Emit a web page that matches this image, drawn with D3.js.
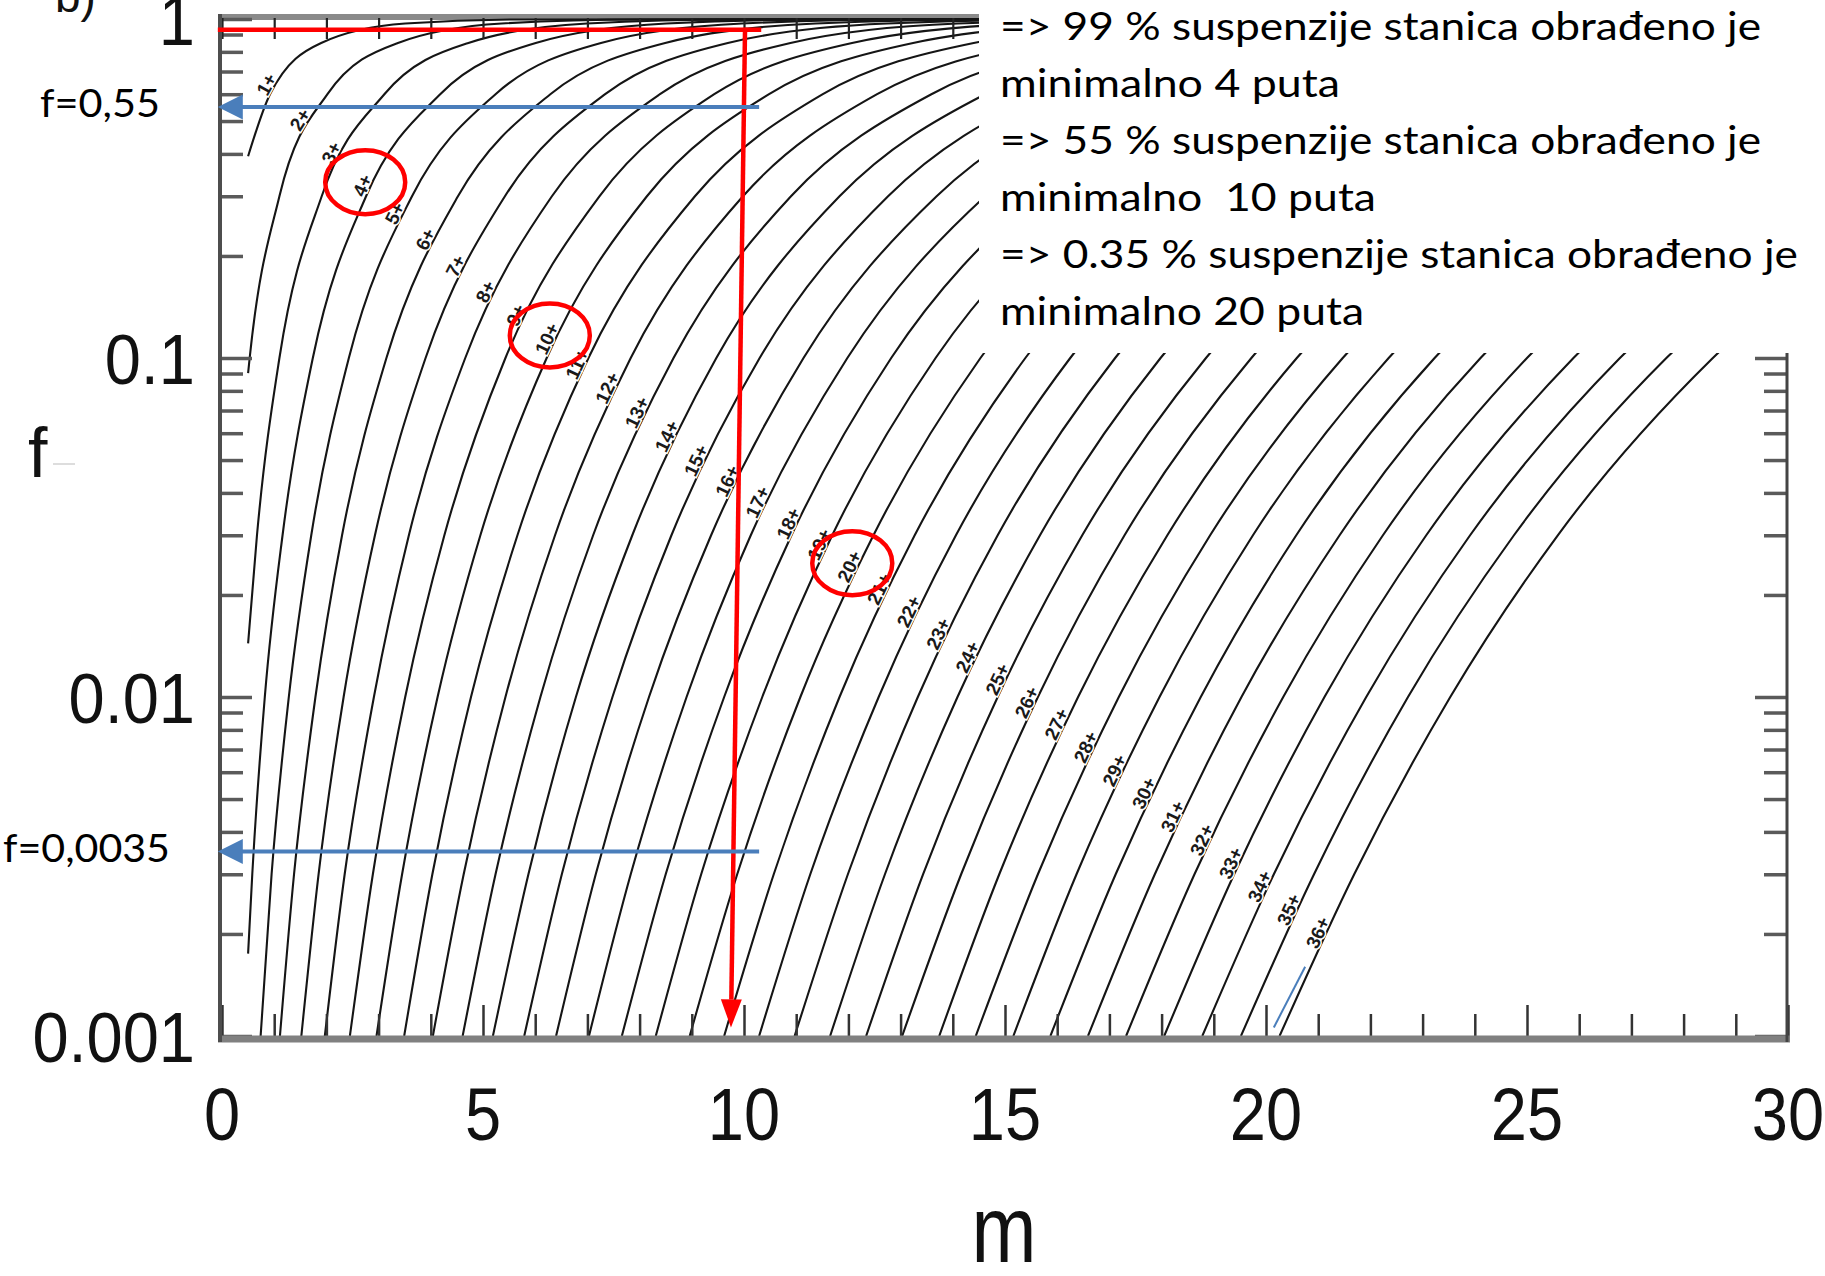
<!DOCTYPE html>
<html>
<head>
<meta charset="utf-8">
<script src="https://cdn.jsdelivr.net/npm/d3@7/dist/d3.min.js"></script>
<style>
  html, body { margin: 0; padding: 0; background: #fff; }
  svg { display: block; }
</style>
</head>
<body>
<svg id="chart" width="1825" height="1276"></svg>
<script>
// ── data: curves "k+" (k = 1..36), m read where each curve crosses a given f ──
const curveK = [1, 2, 3, 4, 5, 6, 7, 8, 9, 10, 11, 12, 13, 14, 15, 16, 17, 18,
  19, 20, 21, 22, 23, 24, 25, 26, 27, 28, 29, 30, 31, 32, 33, 34, 35, 36];
const fLevels = [0.001, 0.003, 0.01, 0.03, 0.1, 0.3, 0.6, 0.85, 0.97, 0.997];

// curves 1+..4+ start at m = 0.5 above the bottom edge
const mStart = 0.5;
const fAtStart = [0.3935, 0.0902, 0.0144, 0.00175];

const mAtF0001 = [null, null, null, null, 0.74, 1.11, 1.52, 1.97, 2.45, 2.96, 3.49, 4.04,
  4.61, 5.19, 5.79, 6.40, 7.03, 7.66, 8.31, 8.96, 9.62, 10.29, 10.97, 11.65,
  12.34, 13.03, 13.74, 14.44, 15.16, 15.87, 16.59, 17.32, 18.05, 18.78, 19.52, 20.26];
const mAtF0003 = [null, null, null, 0.58, 0.95, 1.38, 1.85, 2.35, 2.89, 3.45, 4.03, 4.63,
  5.24, 5.87, 6.51, 7.16, 7.83, 8.50, 9.18, 9.87, 10.57, 11.27, 11.99, 12.70,
  13.43, 14.16, 14.89, 15.63, 16.37, 17.12, 17.87, 18.63, 19.39, 20.15, 20.92, 21.69];
const mAtF001 = [null, null, null, 0.82, 1.28, 1.79, 2.33, 2.91, 3.51, 4.13, 4.77, 5.43,
  6.10, 6.78, 7.48, 8.18, 8.90, 9.62, 10.35, 11.08, 11.83, 12.58, 13.33, 14.09,
  14.86, 15.63, 16.40, 17.18, 17.96, 18.75, 19.53, 20.33, 21.12, 21.92, 22.72, 23.53];
const mAtF003 = [null, null, 0.67, 1.16, 1.71, 2.30, 2.93, 3.58, 4.26, 4.95, 5.66, 6.38,
  7.11, 7.86, 8.61, 9.37, 10.13, 10.91, 11.69, 12.48, 13.27, 14.06, 14.86, 15.67,
  16.48, 17.29, 18.11, 18.93, 19.75, 20.58, 21.41, 22.24, 23.07, 23.91, 24.75, 25.59];
const mAtF01 = [null, 0.53, 1.10, 1.74, 2.43, 3.15, 3.90, 4.66, 5.43, 6.22, 7.02, 7.83,
  8.65, 9.47, 10.30, 11.14, 11.98, 12.82, 13.67, 14.53, 15.39, 16.25, 17.11, 17.98,
  18.85, 19.72, 20.59, 21.47, 22.35, 23.23, 24.11, 25.00, 25.89, 26.78, 27.67, 28.56];
const mAtF03 = [null, 1.10, 1.91, 2.76, 3.64, 4.52, 5.42, 6.32, 7.23, 8.14, 9.06, 9.98,
  10.90, 11.83, 12.76, 13.69, 14.62, 15.56, 16.50, 17.44, 18.38, 19.32, 20.27, 21.21,
  22.16, 23.11, 24.06, 25.01, 25.96, 26.91, 27.86, 28.81, 29.77, 30.72, 31.68, 32.63];
const mAtF06 = [0.92, 2.02, 3.11, 4.18, 5.24, 6.29, 7.34, 8.39, 9.43, 10.48, 11.51, 12.55,
  13.59, 14.62, 15.66, 16.69, 17.72, 18.75, 19.78, 20.81, 21.84, 22.87, 23.89, 24.92,
  25.94, 26.97, 27.99, 29.02, 30.04, 31.07, 32.09, 33.11, 34.13, 35.16, 36.18, 37.20];
const mAtF085 = [1.90, 3.37, 4.72, 6.01, 7.26, 8.49, 9.69, 10.89, 12.07, 13.24, 14.40, 15.56,
  16.71, 17.85, 18.99, 20.12, 21.25, 22.38, 23.50, 24.62, 25.73, 26.85, 27.96, 29.06,
  30.17, 31.27, 32.37, 33.47, 34.57, 35.67, 36.76, 37.85, 38.95, 40.04, 41.12, 42.21];
const mAtF097 = [3.51, 5.36, 6.99, 8.51, 9.96, 11.37, 12.74, 14.09, 15.42, 16.73, 18.02, 19.30,
  20.57, 21.83, 23.08, 24.32, 25.55, 26.78, 28.00, 29.21, 30.42, null, null, null,
  null, null, null, null, null, null, null, null, null, null, null, null];
const mAtF0997 = [5.81, 8.01, 9.90, 11.65, 13.35, 14.94, 16.48, 17.98, 19.45, 20.90, 22.32, 23.73,
  25.12, 26.49, 27.85, 29.20, 30.54, null, null, null, null, null, null, null,
  null, null, null, null, null, null, null, null, null, null, null, null];
const mByLevel = [mAtF0001, mAtF0003, mAtF001, mAtF003, mAtF01, mAtF03, mAtF06, mAtF085, mAtF097, mAtF0997];

// axes
const xMajor = [0, 5, 10, 15, 20, 25, 30];
const xMinor = [1, 2, 3, 4, 6, 7, 8, 9, 11, 12, 13, 14, 16, 17, 18, 19, 21, 22, 23, 24, 26, 27, 28, 29];
const xTop = [0, 1, 2, 3, 4, 5, 6, 7, 8, 9, 10, 11, 12, 13, 14, 15, 16, 17, 18, 19, 20,
  21, 22, 23, 24, 25, 26, 27, 28, 29, 30];
const yMajor = [0.001, 0.01, 0.1, 1];
const yMajorLabels = ["0.001", "0.01", "0.1", "1"];
const yMinor = [0.002, 0.003, 0.004, 0.005, 0.006, 0.007, 0.008, 0.009,
  0.02, 0.03, 0.04, 0.05, 0.06, 0.07, 0.08, 0.09,
  0.2, 0.3, 0.4, 0.5, 0.6, 0.7, 0.8, 0.9];

// annotations
const arrowF = [0.55, 0.0035];
const arrowLabels = ["f=0,55", "f=0,0035"];
const arrowM = [-0.08, 10.29];
const redLineF = 0.93;
const redLineM = [-0.08, 10.33];
const redDropM = [10.02, 9.75];
const redDropF = [0.93, 0.00106];
const circledK = [4, 10, 20];
const blueTick = [[20.15, 0.00106], [20.75, 0.0016]];
const noteLines = [
  "=> 99 % suspenzije stanica obrađeno je",
  "minimalno 4 puta",
  "=> 55 % suspenzije stanica obrađeno je",
  "minimalno  10 puta",
  "=> 0.35 % suspenzije stanica obrađeno je",
  "minimalno 20 puta"
];
const noteWidths = [761, 340, 761, 376, 798, 364];

// ── layout ──
const svg = d3.select("#chart");
const x = d3.scaleLinear().domain([0, 30]).range([222, 1788]);
const y = d3.scaleLog().domain([0.001, 1]).range([1036, 19]);
const AX = "'Liberation Sans', Arial, sans-serif";
const CAL = "Lato, 'Open Sans', sans-serif";
const RED = "#ff0000", BLUE = "#4a7ebb";

svg.append("defs").append("clipPath").attr("id", "plot")
  .append("rect").attr("x", 220).attr("y", 14).attr("width", 1568).attr("height", 1022);

/* top frame first: the curves crowd over it */
svg.append("line").attr("x1", 218).attr("x2", 1790).attr("y1", 17).attr("y2", 17)
  .attr("stroke", "#8a8a8a").attr("stroke-width", 6);

/* curves */
const curves = curveK.map((k, i) => {
  const pts = [];
  if (i < fAtStart.length) pts.push([mStart, fAtStart[i]]);
  fLevels.forEach((f, j) => {
    const m = mByLevel[j][i];
    if (m != null) pts.push([m, f]);
  });
  const last = pts[pts.length - 1];
  // curves that reach the top run on along f = 1
  if (last[1] === fLevels[fLevels.length - 1] && last[0] < x.domain()[1])
    pts.push([x.domain()[1], y.domain()[1]]);
  return { k, pts };
});

const line = d3.line().x(d => x(d[0])).y(d => y(d[1])).curve(d3.curveMonotoneX);
const gCurves = svg.append("g").attr("clip-path", "url(#plot)");
const paths = gCurves.selectAll("path").data(curves).join("path")
  .attr("d", d => line(d.pts))
  .attr("fill", "none")
  .attr("stroke", "#151515")
  .attr("stroke-width", 2.1);

/* curve labels, sitting on the curves along a diagonal */
const guide = [[266, 81], [364, 184], [486, 290], [546, 336], [699, 461], [853, 567], [1088, 747], [1319, 932]];
function guideY(px) {
  let a = guide[0], b = guide[1];
  for (let i = 1; i < guide.length; i++) {
    a = guide[i - 1]; b = guide[i];
    if (px <= b[0]) break;
  }
  return a[1] + (b[1] - a[1]) * (px - a[0]) / (b[0] - a[0]);
}
const labelPos = {};
paths.each(function (d) {
  const L = this.getTotalLength();
  for (let s = 0; s <= L; s += 1) {
    const p = this.getPointAtLength(s);
    if (p.y - guideY(p.x) <= 0) {
      const p1 = this.getPointAtLength(Math.max(0, s - 6));
      const p2 = this.getPointAtLength(Math.min(L, s + 6));
      const ang = Math.atan2(p2.y - p1.y, p2.x - p1.x);
      labelPos[d.k] = { x: p.x, y: p.y, ang };
      break;
    }
  }
});
const gLab = svg.append("g");
curves.forEach(d => {
  const p = labelPos[d.k];
  if (!p) return;
  gLab.append("text")
    .attr("transform", `translate(${p.x},${p.y}) rotate(${p.ang * 180 / Math.PI})`)
    .attr("dy", -1)
    .attr("text-anchor", "middle")
    .attr("font-family", AX)
    .attr("font-size", 19)
    .attr("font-weight", "bold")
    .attr("fill", "#1a1a1a")
    .attr("stroke", "#fff")
    .attr("stroke-width", 3)
    .attr("paint-order", "stroke")
    .text(d.k + "+");
});

/* ticks via d3 axes */
function styleTicks(g, w, c) {
  g.select(".domain").remove();
  g.selectAll(".tick line").attr("stroke", c).attr("stroke-width", w);
  g.selectAll(".tick text").remove();
}
svg.append("g").attr("transform", "translate(220,0)")
  .call(d3.axisLeft(y).tickValues(yMajor).tickSize(-32)).call(g => styleTicks(g, 3.5, "#5a5a5a"));
svg.append("g").attr("transform", "translate(220,0)")
  .call(d3.axisLeft(y).tickValues(yMinor).tickSize(-23)).call(g => styleTicks(g, 3.5, "#5a5a5a"));
svg.append("g").attr("transform", "translate(1787,0)")
  .call(d3.axisRight(y).tickValues(yMajor).tickSize(-32)).call(g => styleTicks(g, 3.5, "#5a5a5a"));
svg.append("g").attr("transform", "translate(1787,0)")
  .call(d3.axisRight(y).tickValues(yMinor).tickSize(-23)).call(g => styleTicks(g, 3.5, "#5a5a5a"));
svg.append("g").attr("transform", "translate(0,1037)")
  .call(d3.axisBottom(x).tickValues(xMajor).tickSize(-32)).call(g => styleTicks(g, 2.5, "#333"));
svg.append("g").attr("transform", "translate(0,1037)")
  .call(d3.axisBottom(x).tickValues(xMinor).tickSize(-23)).call(g => styleTicks(g, 2.5, "#333"));
svg.append("g").attr("transform", "translate(0,18)")
  .call(d3.axisTop(x).tickValues(xTop).tickSize(-21)).call(g => styleTicks(g, 2.2, "#222"));

/* rest of the frame */
svg.append("line").attr("x1", 218).attr("x2", 1790).attr("y1", 1039).attr("y2", 1039)
  .attr("stroke", "#808080").attr("stroke-width", 7);
svg.append("line").attr("x1", 220).attr("x2", 220).attr("y1", 14).attr("y2", 1042)
  .attr("stroke", "#4d4d4d").attr("stroke-width", 4);
svg.append("line").attr("x1", 1787).attr("x2", 1787).attr("y1", 14).attr("y2", 1042)
  .attr("stroke", "#444").attr("stroke-width", 3);

/* tick labels */
yMajor.forEach((v, i) => {
  svg.append("text")
    .attr("transform", `translate(195,${y(v) + 25.5}) scale(1,1.09)`)
    .attr("text-anchor", "end").attr("font-family", AX).attr("font-size", 65)
    .attr("fill", "#111").text(yMajorLabels[i]);
});
xMajor.forEach(v => {
  svg.append("text")
    .attr("transform", `translate(${x(v)},1140) scale(1,1.14)`)
    .attr("text-anchor", "middle").attr("font-family", AX).attr("font-size", 65)
    .attr("fill", "#111").text(v);
});
svg.append("text").attr("transform", "translate(1004,1262) scale(1,1.2)")
  .attr("text-anchor", "middle").attr("font-family", AX).attr("font-size", 78)
  .attr("fill", "#111").text("m");
svg.append("text").attr("transform", "translate(28,477)")
  .attr("font-family", AX).attr("font-size", 70).attr("fill", "#111").text("f");
svg.append("line").attr("x1", 53).attr("x2", 75).attr("y1", 464).attr("y2", 464)
  .attr("stroke", "#bbb").attr("stroke-width", 1);
svg.append("text").attr("transform", "translate(55,12)")
  .attr("font-family", AX).attr("font-size", 46).attr("fill", "#111").text("b)");

/* annotations: red 99 % line with drop arrow */
svg.append("line").attr("x1", x(redLineM[0])).attr("x2", x(redLineM[1]))
  .attr("y1", y(redLineF)).attr("y2", y(redLineF))
  .attr("stroke", RED).attr("stroke-width", 4.5);
const dTop = [x(redDropM[0]), y(redDropF[0])], dTip = [x(redDropM[1]), y(redDropF[1])];
const dLen = Math.hypot(dTip[0] - dTop[0], dTip[1] - dTop[1]);
const ux = (dTip[0] - dTop[0]) / dLen, uy = (dTip[1] - dTop[1]) / dLen;
const headL = 28, headW = 10.5;
svg.append("line").attr("x1", dTop[0]).attr("y1", dTop[1] - 2)
  .attr("x2", dTip[0] - ux * headL).attr("y2", dTip[1] - uy * headL)
  .attr("stroke", RED).attr("stroke-width", 4.5);
svg.append("polygon")
  .attr("points", [
    dTip,
    [dTip[0] - ux * headL - uy * headW, dTip[1] - uy * headL + ux * headW],
    [dTip[0] - ux * headL + uy * headW, dTip[1] - uy * headL - ux * headW]
  ].map(p => p.join(",")).join(" "))
  .attr("fill", RED);

/* circled labels */
circledK.forEach(k => {
  const p = labelPos[k];
  if (!p) return;
  // centre of the label text, offset from the curve towards the glyphs
  const cx = p.x + Math.sin(p.ang) * 8 + 3, cy = p.y - Math.cos(p.ang) * 8 - 3;
  svg.append("ellipse").attr("cx", cx).attr("cy", cy).attr("rx", 40).attr("ry", 32)
    .attr("fill", "none").attr("stroke", RED).attr("stroke-width", 4.5);
});

/* blue read-off arrows */
arrowF.forEach((f, i) => {
  const yy = y(f), x0 = x(arrowM[0]), x1 = x(arrowM[1]);
  svg.append("line").attr("x1", x1).attr("x2", x0 + 24).attr("y1", yy).attr("y2", yy)
    .attr("stroke", BLUE).attr("stroke-width", 4);
  svg.append("polygon")
    .attr("points", `${x0},${yy} ${x0 + 25},${yy - 12.5} ${x0 + 25},${yy + 12.5}`)
    .attr("fill", BLUE);
  svg.append("text")
    .attr("x", i === 0 ? 40 : 3).attr("y", yy + 10)
    .attr("font-family", CAL).attr("font-size", 39).attr("fill", "#000")
    .attr("textLength", i === 0 ? 120 : 167).attr("lengthAdjust", "spacingAndGlyphs")
    .text(arrowLabels[i]);
});
svg.append("line")
  .attr("x1", x(blueTick[0][0])).attr("y1", y(blueTick[0][1]))
  .attr("x2", x(blueTick[1][0])).attr("y2", y(blueTick[1][1]))
  .attr("stroke", BLUE).attr("stroke-width", 2);

/* note box over the top-right corner */
svg.append("rect").attr("x", 979).attr("y", 0).attr("width", 846).attr("height", 353).attr("fill", "#fff");
noteLines.forEach((t, i) => {
  svg.append("text")
    .attr("x", 1000).attr("y", 40 + i * 57)
    .attr("font-family", CAL).attr("font-size", 38).attr("fill", "#000")
    .style("white-space", "pre")
    .attr("textLength", noteWidths[i]).attr("lengthAdjust", "spacingAndGlyphs")
    .text(t);
});
</script>
</body>
</html>
